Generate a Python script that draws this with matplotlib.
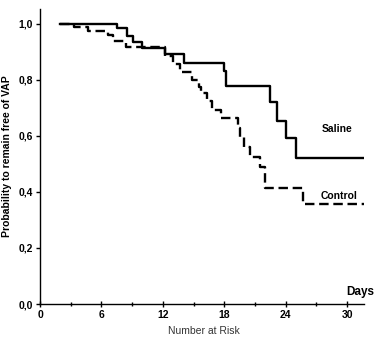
import matplotlib
matplotlib.use("Agg")
import matplotlib.pyplot as plt
from matplotlib.ticker import MultipleLocator, FixedLocator

plt.rcParams['font.family'] = ['Liberation Sans', 'DejaVu Sans']

# Kaplan-Meier step data
saline_days = [2, 7.5, 8.5, 9.1, 10.0, 12.2, 14.1, 18.0, 18.2, 22.5, 23.1, 24.0, 25.0, 31.7]
saline_surv = [1.0, 0.985, 0.955, 0.935, 0.915, 0.893, 0.862, 0.83, 0.778, 0.72, 0.655, 0.592, 0.522, 0.522]

control_days = [2, 3.3, 4.7, 6.6, 7.1, 8.4, 12.2, 13.0, 13.7, 14.8, 15.5, 15.7, 16.3, 16.8,
                17.7, 19.3, 19.5, 19.9, 20.5, 21.5, 22.0, 25.7, 31.7]
control_surv = [1.0, 0.99, 0.975, 0.96, 0.94, 0.918, 0.885, 0.855, 0.828, 0.8, 0.775, 0.752,
                0.723, 0.693, 0.663, 0.627, 0.597, 0.562, 0.526, 0.49, 0.413, 0.357, 0.357]

x_ticks = [0, 6, 12, 18, 24, 30]
x_ticklabels = ["0", "6", "12", "18", "24", "30"]
y_ticks = [0.0, 0.2, 0.4, 0.6, 0.8, 1.0]
y_ticklabels = ["0,0", "0,2", "0,4", "0,6", "0,8", "1,0"]

fig = plt.figure(figsize=(3.8, 3.43), dpi=100)
ax = fig.add_axes([40/380, 1 - 304/343, 323.6/380, 295/343])

ax.step(saline_days, saline_surv, where='post', color='black', lw=1.7)
ax.step(control_days, control_surv, where='post', color='black', lw=1.7,
        linestyle=(0, (4, 2)))

ax.set_xlim(0, 31.6)
ax.set_ylim(0, 1.053)

for s in ['top', 'right']:
    ax.spines[s].set_visible(False)
for s in ['left', 'bottom']:
    ax.spines[s].set_linewidth(1.0)

ax.xaxis.set_major_locator(FixedLocator(x_ticks))
ax.set_xticklabels(x_ticklabels, fontsize=7.5, fontweight='bold')
ax.xaxis.set_minor_locator(MultipleLocator(3))
ax.yaxis.set_major_locator(FixedLocator(y_ticks))
ax.set_yticklabels(y_ticklabels, fontsize=7.5, fontweight='bold')

ax.tick_params(axis='x', which='major', direction='inout', length=5, width=1, pad=2)
ax.tick_params(axis='x', which='minor', direction='inout', length=3, width=1)
ax.tick_params(axis='y', which='major', direction='out', length=3, width=1, pad=2)

ax.set_ylabel("Probability to remain free of VAP", fontsize=7.5, fontweight='bold')
ax.yaxis.set_label_coords(-0.085, 0.5)

ax.text(31.3, 0.044, "Days", fontsize=8.5, fontweight='bold', ha='center', va='center')
ax.text(29.0, 0.625, "Saline", fontsize=7.5, fontweight='bold', ha='center', va='center')
ax.text(29.2, 0.384, "Control", fontsize=7.5, fontweight='bold', ha='center', va='center')

fig.text(204/380, 1 - 331.5/343, "Number at Risk", fontsize=7.5, color='#333333',
         ha='center', va='center')

fig.savefig("out.png", dpi=100)
